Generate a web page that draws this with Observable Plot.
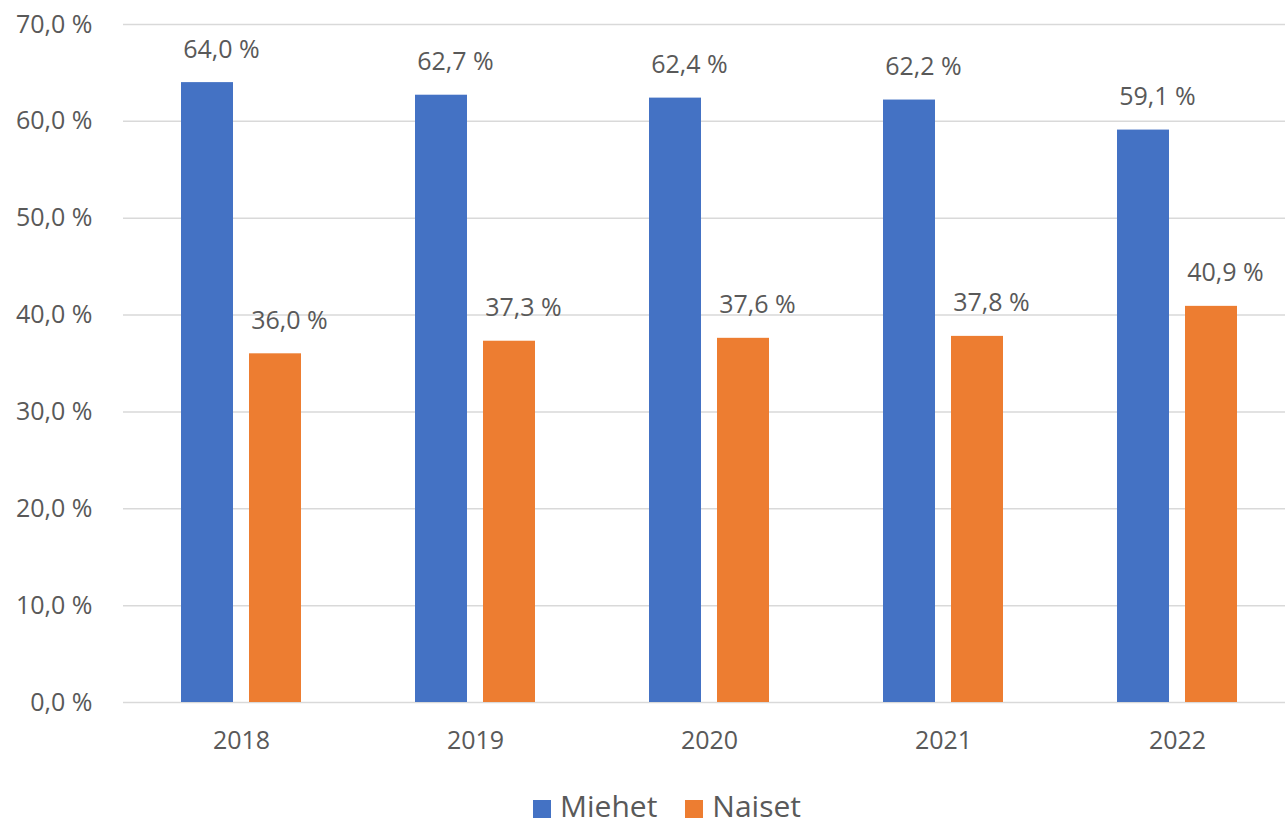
<!DOCTYPE html>
<html>
<head>
<meta charset="utf-8">
<script src="https://cdn.jsdelivr.net/npm/d3@7"></script>
<script src="https://cdn.jsdelivr.net/npm/@observablehq/plot@0.6"></script>
<style>
  body { margin: 0; background: #fff; font-family: "Open Sans", sans-serif; overflow: hidden; }
  #legend { display: flex; align-items: center; height: 32px; line-height: 1; margin-top: 26px; padding-left: 533px; font-size: 30px; color: #595959; }
  #legend .sw { width: 18px; height: 18px; display: inline-block; margin-right: 9px; margin-top: 6px; }
  #legend .item { display: flex; align-items: center; margin-right: 28px; }
</style>
</head>
<body>
<div id="chart"></div>
<div id="legend"></div>
<script>
const years = ["2018", "2019", "2020", "2021", "2022"];
const miehet = [64.0, 62.7, 62.4, 62.2, 59.1];
const naiset = [36.0, 37.3, 37.6, 37.8, 40.9];
const yTicks = [0, 10, 20, 30, 40, 50, 60, 70];
const seriesNames = ["Miehet", "Naiset"];
const seriesColors = ["#4472C4", "#ED7D31"];

const fmt = v => v.toFixed(1).replace(".", ",") + " %";
const mData = years.map((y, i) => ({year: y, value: miehet[i]}));
const nData = years.map((y, i) => ({year: y, value: naiset[i]}));

const chart = Plot.plot({
  width: 1285,
  height: 764,
  marginLeft: 123,
  marginRight: 0,
  marginTop: 24,
  marginBottom: 62,
  style: {fontFamily: "Open Sans", color: "#595959", background: "white"},
  x: {domain: years, range: [123, 1294], paddingInner: 0.488, paddingOuter: 0.244, label: null},
  y: {domain: [0, 70], label: null},
  marks: [
    Plot.gridY(yTicks, {stroke: "#d9d9d9", strokeOpacity: 1, strokeWidth: 1.5}),
    Plot.barY(mData, {x: "year", y: "value", fill: seriesColors[0], insetRight: 68}),
    Plot.barY(nData, {x: "year", y: "value", fill: seriesColors[1], insetLeft: 68}),
    Plot.text(mData, {x: "year", y: "value", text: d => fmt(d.value), dx: -20, dy: -33, fontSize: 25, fill: "#595959"}),
    Plot.text(nData, {x: "year", y: "value", text: d => fmt(d.value), dx: 48, dy: -33, fontSize: 25, fill: "#595959"}),
    Plot.axisY(yTicks, {tickSize: 0, tickPadding: 31, fontSize: 25, tickFormat: fmt, label: null}),
    Plot.axisX({tickSize: 0, tickPadding: 29, fontSize: 25, label: null})
  ]
});
document.getElementById("chart").appendChild(chart);

const legend = document.getElementById("legend");
seriesNames.forEach((name, i) => {
  const item = document.createElement("span");
  item.className = "item";
  const sw = document.createElement("span");
  sw.className = "sw";
  sw.style.background = seriesColors[i];
  item.appendChild(sw);
  item.appendChild(document.createTextNode(name));
  legend.appendChild(item);
});
</script>
</body>
</html>
